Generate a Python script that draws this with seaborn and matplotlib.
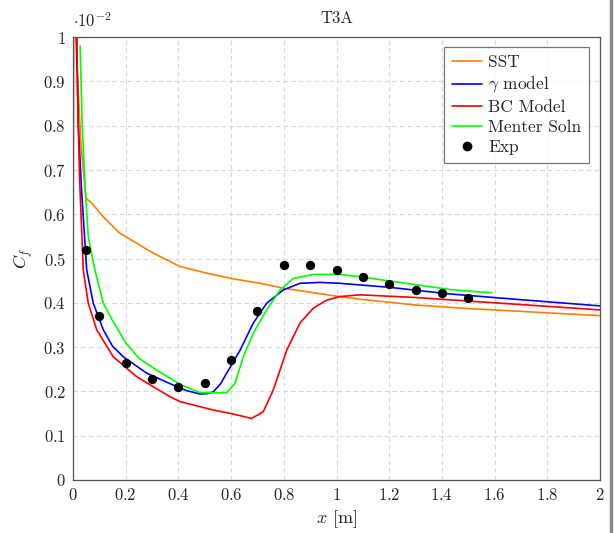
import numpy as np
import pandas as pd
import seaborn as sns
import matplotlib
matplotlib.use("Agg")
import matplotlib.pyplot as plt
from matplotlib.lines import Line2D

# ---- data (C_f in units of 1e-2) ----
sst_x = [0.005, 0.01, 0.02, 0.03, 0.039, 0.049, 0.071, 0.115, 0.178, 0.305, 0.406, 0.5, 0.6, 0.71, 0.8, 0.9, 1.0, 1.09, 1.3, 1.5, 1.75, 2.0]
sst_y = [1.05, 1.0, 0.88, 0.76, 0.70, 0.636, 0.625, 0.594, 0.557, 0.512, 0.482, 0.468, 0.455, 0.444, 0.433, 0.424, 0.415, 0.408, 0.395, 0.387, 0.379, 0.371]

gam_x = [0.012, 0.02, 0.033, 0.052, 0.077, 0.115, 0.15, 0.191, 0.28, 0.393, 0.43, 0.482, 0.51, 0.532, 0.56, 0.583, 0.634, 0.684, 0.735, 0.798, 0.861, 0.937, 1.013, 1.2, 1.43, 1.7, 2.0]
gam_y = [1.05, 0.8, 0.65, 0.474, 0.399, 0.339, 0.302, 0.278, 0.241, 0.211, 0.202, 0.194, 0.195, 0.199, 0.217, 0.241, 0.293, 0.354, 0.399, 0.429, 0.444, 0.446, 0.444, 0.435, 0.42, 0.407, 0.393]

bc_x = [0.0, 0.002, 0.013, 0.018, 0.025, 0.039, 0.058, 0.09, 0.153, 0.242, 0.368, 0.406, 0.532, 0.6, 0.678, 0.722, 0.76, 0.811, 0.861, 0.912, 0.963, 1.013, 1.089, 1.3, 1.6, 2.0]
bc_y = [0.282, 1.05, 1.05, 0.85, 0.68, 0.474, 0.399, 0.339, 0.278, 0.233, 0.188, 0.177, 0.158, 0.15, 0.139, 0.154, 0.203, 0.293, 0.354, 0.388, 0.406, 0.414, 0.418, 0.412, 0.4, 0.384]

men_x = [0.027, 0.035, 0.046, 0.058, 0.083, 0.115, 0.15, 0.2, 0.25, 0.318, 0.406, 0.482, 0.583, 0.615, 0.646, 0.684, 0.735, 0.786, 0.836, 0.912, 1.013, 1.1, 1.216, 1.431, 1.55, 1.589]
men_y = [0.98, 0.80, 0.662, 0.549, 0.474, 0.399, 0.36, 0.31, 0.275, 0.248, 0.216, 0.197, 0.197, 0.218, 0.278, 0.331, 0.384, 0.429, 0.455, 0.464, 0.464, 0.458, 0.448, 0.43, 0.424, 0.423]

exp_x = [0.05, 0.1, 0.2, 0.3, 0.4, 0.5, 0.6, 0.7, 0.8, 0.9, 1.0, 1.1, 1.2, 1.3, 1.4, 1.5]
exp_y = [0.52, 0.37, 0.265, 0.228, 0.21, 0.22, 0.272, 0.381, 0.486, 0.486, 0.473, 0.459, 0.443, 0.43, 0.421, 0.41]

series_names = ["SST", r"$\gamma$ model", "BC Model", "Menter Soln"]
series_colors = ["#ff8000", "#0000ff", "#ff0000", "#00ff00"]

sns.set_theme(style="white")
plt.rcParams["mathtext.fontset"] = "cm"
plt.rcParams["font.family"] = ["cmr10", "DejaVu Serif"]
plt.rcParams["axes.formatter.use_mathtext"] = True
plt.rcParams["axes.unicode_minus"] = False

frames = []
for name, xs, ys in zip(series_names, [sst_x, gam_x, bc_x, men_x], [sst_y, gam_y, bc_y, men_y]):
    frames.append(pd.DataFrame({"x": xs, "y": ys, "series": name}))
df = pd.concat(frames, ignore_index=True)
exp_df = pd.DataFrame({"x": exp_x, "y": exp_y})

fig = plt.figure(figsize=(6.14, 5.33), dpi=100)
ax = fig.add_axes([73/614, 53/533, 527/614, 443/533])

sns.lineplot(data=df, x="x", y="y", hue="series", hue_order=series_names,
             palette=series_colors, sort=False, estimator=None, units="series",
             linewidth=1.2, ax=ax, legend=False)
sns.scatterplot(data=exp_df, x="x", y="y", color="black", s=45, edgecolor="black",
                linewidth=0, ax=ax, zorder=5, legend=False)

ax.set_xlim(0, 2)
ax.set_ylim(0, 1)
xt = np.arange(0, 2.01, 0.2)
yt = np.arange(0, 1.01, 0.1)
ax.set_xticks(xt)
ax.set_yticks(yt)

def fmt(v):
    s = f"{v:.1f}"
    if s.endswith(".0"):
        s = s[:-2]
    return f"${s}$"

ax.set_xticklabels([fmt(v) for v in xt])
ax.set_yticklabels([fmt(v) for v in yt])
ax.tick_params(axis="both", labelsize=12, direction="in", length=3, color="#555555", pad=5)
ax.grid(True, linestyle=(0, (4, 3)), color="#d8d8d8", linewidth=0.8)
for sp in ax.spines.values():
    sp.set_color("#555555")
    sp.set_linewidth(0.9)

ax.set_xlabel(r"$x$ [m]", fontsize=13, labelpad=4)
ax.set_ylabel(r"$C_f$", fontsize=13, labelpad=6)
ax.set_title("T3A", fontsize=12, pad=10)
ax.text(0.0, 1.015, r"$\cdot10^{-2}$", transform=ax.transAxes, fontsize=12,
        ha="left", va="bottom")

handles = [Line2D([0], [0], color=c, lw=1.2) for c in series_colors]
handles.append(Line2D([0], [0], marker="o", color="black", lw=0, markersize=6))
leg = ax.legend(handles, series_names + ["Exp"], loc="upper right",
                bbox_to_anchor=(589/614, (533-47)/533), bbox_transform=fig.transFigure,
                borderaxespad=0,
                fontsize=12.5, frameon=True, fancybox=False, edgecolor="#555555",
                handlelength=1.72, labelspacing=0.27,
                borderpad=0.45, handletextpad=0.35)
leg.get_frame().set_linewidth(0.9)

fig.add_artist(Line2D([611/614, 611/614], [0, 1], color="#888888", lw=2.5,
                      transform=fig.transFigure))

fig.savefig("out.png", dpi=100)
